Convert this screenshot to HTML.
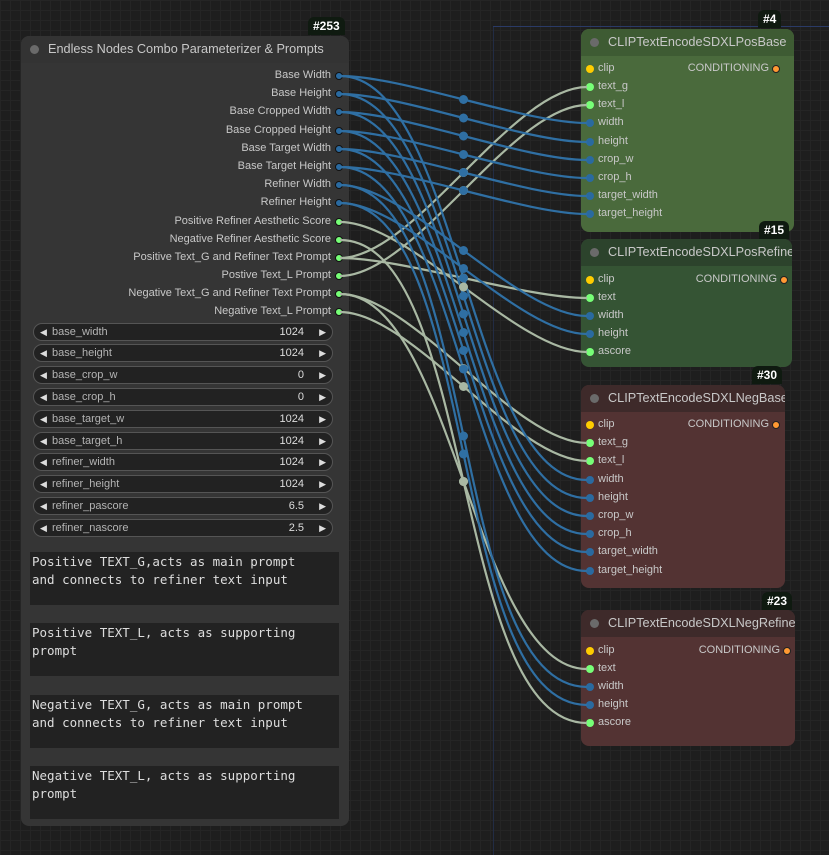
<!DOCTYPE html>
<html><head><meta charset="utf-8"><style>
*{margin:0;padding:0;box-sizing:border-box}
body{width:829px;height:855px;overflow:hidden;background:#1e1e1e;font-family:"Liberation Sans",sans-serif;position:relative;
background-image:linear-gradient(#252525 1px,transparent 1px),linear-gradient(90deg,#252525 1px,transparent 1px);background-size:10px 10px}
.abs{position:absolute}
.node{position:absolute;border-radius:8px;overflow:hidden}
.title{height:27px;color:#c8c8c8;font-size:12.7px;line-height:27px;padding-left:27px;position:relative;white-space:nowrap}
.title:before{content:"";position:absolute;left:9px;top:9px;width:9px;height:9px;border-radius:50%;background:#6a6a6a}
.badge{position:absolute;color:#fff;font-weight:bold;font-size:12px;background:#0f1a10;border-radius:6px 6px 0 0;height:18px;line-height:18px;padding:0 5px}
.lab{position:absolute;font-size:11px;color:#c8c8c8;white-space:nowrap}
.dot{position:absolute;width:8px;height:8px;border-radius:50%}
.w{position:absolute;left:33px;width:300px;height:18px;border:1px solid #555;border-radius:9px;background:#222;font-size:11px;color:#b4b4b4;line-height:16px}
.w .n{position:absolute;left:18px}.w .v{position:absolute;right:28px;color:#ddd}
.w:before{content:"◀";position:absolute;left:6px;color:#ddd;font-size:9px}
.w:after{content:"▶";position:absolute;right:6px;color:#ddd;font-size:9px}
.ta{position:absolute;left:30px;width:309px;height:53px;background:#222;color:#ddd;font-family:"DejaVu Sans Mono","Liberation Mono",monospace;font-size:12.5px;line-height:18px;padding:1px 2px}
</style></head><body>
<div class="abs" style="left:493px;top:26px;width:1px;height:829px;background:#222c44"></div>
<div class="abs" style="left:493px;top:26px;width:336px;height:1px;background:#2a3a66"></div>

<div class="badge" style="left:308px;top:17px">#253</div>
<div class="node" style="left:21px;top:36px;width:328px;height:790px;background:#353535">
 <div class="title" style="background:#333">Endless Nodes Combo Parameterizer &amp; Prompts</div>
</div>
<div id="outs"></div>
<div class="w" style="top:323px"><span class="n">base_width</span><span class="v">1024</span></div>
<div class="w" style="top:344px"><span class="n">base_height</span><span class="v">1024</span></div>
<div class="w" style="top:366px"><span class="n">base_crop_w</span><span class="v">0</span></div>
<div class="w" style="top:388px"><span class="n">base_crop_h</span><span class="v">0</span></div>
<div class="w" style="top:410px"><span class="n">base_target_w</span><span class="v">1024</span></div>
<div class="w" style="top:432px"><span class="n">base_target_h</span><span class="v">1024</span></div>
<div class="w" style="top:453px"><span class="n">refiner_width</span><span class="v">1024</span></div>
<div class="w" style="top:475px"><span class="n">refiner_height</span><span class="v">1024</span></div>
<div class="w" style="top:497px"><span class="n">refiner_pascore</span><span class="v">6.5</span></div>
<div class="w" style="top:519px"><span class="n">refiner_nascore</span><span class="v">2.5</span></div>
<div class="ta" style="top:552px">Positive TEXT_G,acts as main prompt<br>and connects to refiner text input</div>
<div class="ta" style="top:623px">Positive TEXT_L, acts as supporting<br>prompt</div>
<div class="ta" style="top:695px">Negative TEXT_G, acts as main prompt<br>and connects to refiner text input</div>
<div class="ta" style="top:766px">Negative TEXT_L, acts as supporting<br>prompt</div>

<div class="badge" style="left:758px;top:10px">#4</div>
<div class="node" style="left:581px;top:29px;width:213px;height:203px;background:#4a6a3c"><div class="title" style="background:#3e5b33">CLIPTextEncodeSDXLPosBase</div></div>
<div class="badge" style="left:759px;top:221px">#15</div>
<div class="node" style="left:581px;top:239px;width:211px;height:128px;background:#355434"><div class="title" style="background:#2c432c">CLIPTextEncodeSDXLPosRefiner</div></div>
<div class="badge" style="left:752px;top:366px">#30</div>
<div class="node" style="left:581px;top:385px;width:204px;height:203px;background:#533333"><div class="title" style="background:#3e2a2a">CLIPTextEncodeSDXLNegBase</div></div>
<div class="badge" style="left:762px;top:592px">#23</div>
<div class="node" style="left:581px;top:610px;width:214px;height:136px;background:#533333"><div class="title" style="background:#3e2a2a">CLIPTextEncodeSDXLNegRefiner</div></div>
<div id="ins"></div>

<svg id="wires" class="abs" style="left:0;top:0" width="829" height="855"></svg>

<script>
var B="#2f6fa3",G="#a9b8a3";
var outs=[["Base Width",76,B],["Base Height",94,B],["Base Cropped Width",112,B],["Base Cropped Height",131,B],["Base Target Width",149,B],["Base Target Height",167,B],["Refiner Width",185,B],["Refiner Height",203,B],["Positive Refiner Aesthetic Score",222,"#7f7"],["Negative Refiner Aesthetic Score",240,"#7f7"],["Positive Text_G and Refiner Text Prompt",258,"#7f7"],["Postive Text_L Prompt",276,"#7f7"],["Negative Text_G and Refiner Text Prompt",294,"#7f7"],["Negative Text_L Prompt",312,"#7f7"]];
var h="";
outs.forEach(function(o){h+='<div class="lab" style="right:'+(829-331)+'px;top:'+(o[1]-7)+'px">'+o[0]+'</div><div class="dot" style="left:335px;top:'+(o[1]-4)+'px;background:'+(o[2]==B?"#2a6aa0":"#7f7")+';border:1px solid #111"></div>';});
document.getElementById("outs").innerHTML=h;
var Y="#fc0",GG="#7f7",BB="#2a6aa0";
var nodes=[
 [[["clip",69,Y],["text_g",87,GG],["text_l",105,GG],["width",123,BB],["height",142,BB],["crop_w",160,BB],["crop_h",178,BB],["target_width",196,BB],["target_height",214,BB]],69,775],
 [[["clip",280,Y],["text",298,GG],["width",316,BB],["height",334,BB],["ascore",352,GG]],280,783],
 [[["clip",425,Y],["text_g",443,GG],["text_l",461,GG],["width",480,BB],["height",498,BB],["crop_w",516,BB],["crop_h",534,BB],["target_width",552,BB],["target_height",571,BB]],425,775],
 [[["clip",651,Y],["text",669,GG],["width",687,BB],["height",705,BB],["ascore",723,GG]],651,786]];
h="";
nodes.forEach(function(n){n[0].forEach(function(i){h+='<div class="dot" style="left:586px;top:'+(i[1]-4)+'px;background:'+i[2]+'"></div><div class="lab" style="left:598px;top:'+(i[1]-7)+'px">'+i[0]+'</div>';});
 h+='<div class="lab" style="right:'+(829-(n[2]-6))+'px;top:'+(n[1]-7)+'px">CONDITIONING</div><div class="dot" style="left:'+(n[2]-3)+'px;top:'+(n[1]-4)+'px;background:#f93;border:1px solid #222"></div>';});
document.getElementById("ins").innerHTML=h;
var links=[[222,352,1],[240,723,1],[258,87,1],[258,298,1],[276,105,1],[294,443,1],[294,669,1],[312,461,1],
[76,123],[76,480],[94,142],[94,498],[112,160],[112,516],[131,178],[131,534],[149,196],[149,552],[167,214],[167,571],[185,316],[185,687],[203,334],[203,705]];
var s="";
links.forEach(function(l){var x1=340,y1=l[0],x2=587,y2=l[1];var d=Math.hypot(x2-x1,y2-y1)*0.25;var c=l[2]?G:B;
 s+='<path d="M'+x1+' '+y1+' C'+(x1+d)+' '+y1+' '+(x2-d)+' '+y2+' '+x2+' '+y2+'" stroke="'+c+'" stroke-width="2.2" fill="none"/>';});
links.forEach(function(l){var c=l[2]?G:B;s+='<circle cx="463.5" cy="'+((l[0]+l[1])/2)+'" r="4.5" fill="'+c+'"/>';});
document.getElementById("wires").innerHTML=s;
</script>
</body></html>
